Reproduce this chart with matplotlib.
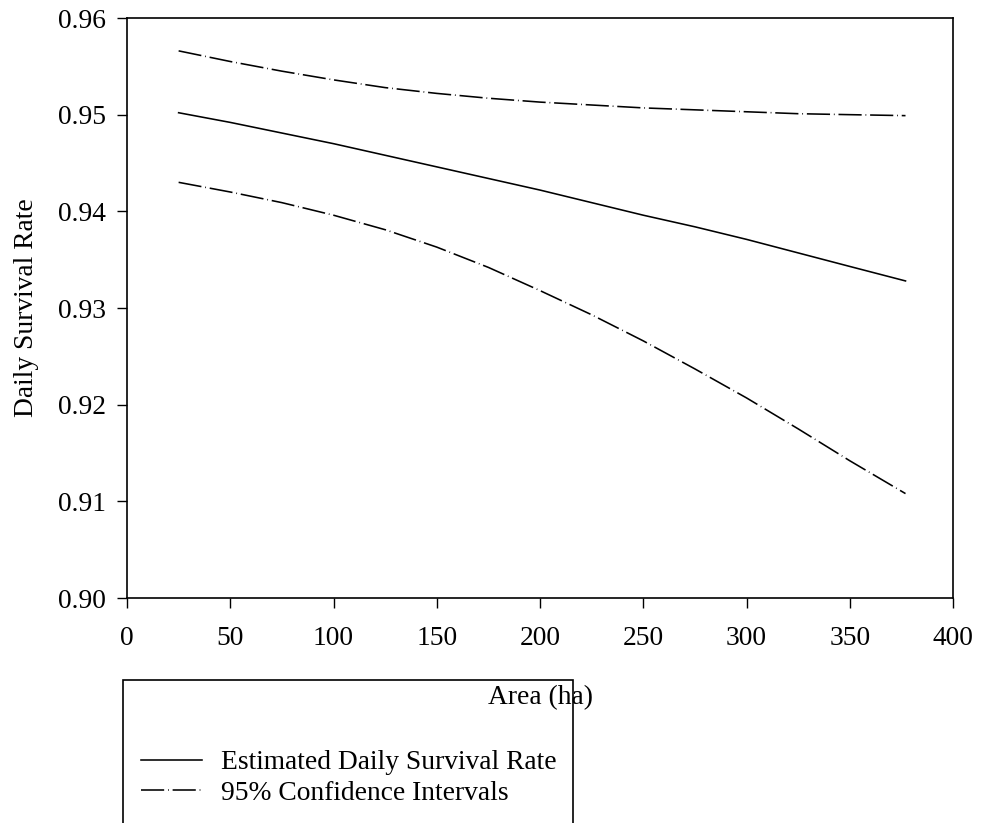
import matplotlib.pyplot as plt
from matplotlib.patches import Rectangle

plt.rcParams['font.family'] = ['Liberation Serif', 'DejaVu Serif']

# values
area = [25, 50, 75, 100, 125, 150, 175, 200, 225, 250, 275, 300, 325, 350, 377]
dsr = [0.9502, 0.9492, 0.9481, 0.9470, 0.9458, 0.9446, 0.9434, 0.9422,
       0.9409, 0.9396, 0.9384, 0.9371, 0.9357, 0.9343, 0.9328]
upper_ci = [0.9566, 0.9555, 0.9545, 0.9536, 0.9528, 0.9522, 0.9517, 0.9513,
            0.9510, 0.9507, 0.9505, 0.9503, 0.9501, 0.9500, 0.9499]
lower_ci = [0.9430, 0.9420, 0.9409, 0.9396, 0.9381, 0.9363, 0.9342, 0.9318,
            0.9293, 0.9266, 0.9237, 0.9207, 0.9175, 0.9142, 0.9108]

x_ticks = [0, 50, 100, 150, 200, 250, 300, 350, 400]
y_ticks = [0.90, 0.91, 0.92, 0.93, 0.94, 0.95, 0.96]

fs = 19.8
dash = (0, (14.5, 2.4, 0.5, 2.4))

fig = plt.figure(figsize=(9.81, 8.23), dpi=100)
ax = fig.add_axes([127 / 981, 1 - 598 / 823, 826 / 981, 580 / 823])

l1, = ax.plot(area, dsr, color='black', lw=1.15)
l2, = ax.plot(area, upper_ci, color='black', lw=1.15, linestyle=dash)
ax.plot(area, lower_ci, color='black', lw=1.15, linestyle=dash)

ax.set_xlim(0, 400)
ax.set_ylim(0.90, 0.96)
ax.set_xticks(x_ticks)
ax.set_yticks(y_ticks)
ax.set_yticklabels(['%.2f' % v for v in y_ticks])
ax.tick_params(direction='out', length=7, width=1, labelsize=fs)
ax.tick_params(axis='x', pad=13)
ax.tick_params(axis='y', pad=8)
for s in ax.spines.values():
    s.set_linewidth(1.2)

ax.set_xlabel('Area (ha)', fontsize=fs, labelpad=25)
ax.set_ylabel('Daily Survival Rate', fontsize=fs, labelpad=14)

# legend box runs off the bottom of the figure
fig.patches.append(Rectangle((123 / 981, -0.05), 450 / 981, 1 - 680 / 823 + 0.05,
                             transform=fig.transFigure, fill=False,
                             edgecolor='black', lw=1.2))
fig.legend([l1, l2], ['Estimated Daily Survival Rate', '95% Confidence Intervals'],
           loc='upper left', bbox_to_anchor=(141 / 981, 1 - 750 / 823),
           frameon=False, fontsize=fs, handlelength=2.2, handletextpad=0.7,
           labelspacing=0.2, borderpad=0, borderaxespad=0)

fig.savefig('out.png', dpi=100)
